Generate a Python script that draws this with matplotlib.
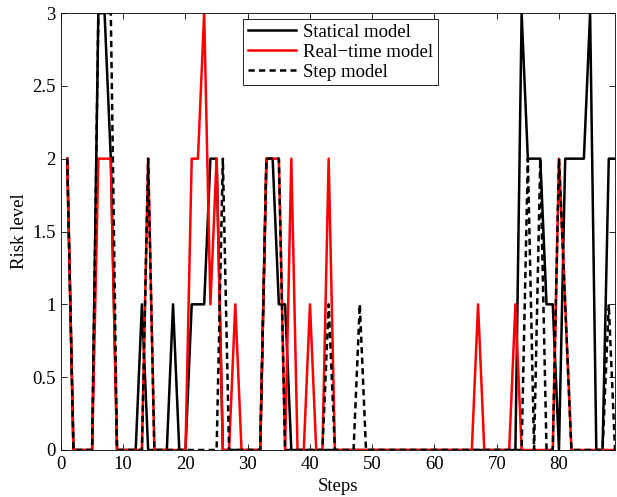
import matplotlib.pyplot as plt
import numpy as np

plt.rcParams['font.family'] = ['Liberation Serif', 'DejaVu Serif']

# Шаги 1..89
steps = np.arange(1, 90)

# Statical model (чёрная сплошная)
statical = [2, 0, 0, 0, 0, 3, 3, 2, 0, 0,
            0, 0, 1, 0, 0, 0, 0, 1, 0, 0,
            1, 1, 1, 2, 2, 0, 0, 0, 0, 0,
            0, 0, 2, 2, 1, 1, 0, 0, 0, 0,
            0, 0, 0, 0, 0, 0, 0, 0, 0, 0,
            0, 0, 0, 0, 0, 0, 0, 0, 0, 0,
            0, 0, 0, 0, 0, 0, 0, 0, 0, 0,
            0, 0, 0, 3, 2, 2, 2, 1, 1, 0,
            2, 2, 2, 2, 3, 0, 0, 2, 2]

# Real-time model (красная)
realtime = [2, 0, 0, 0, 0, 2, 2, 2, 0, 0,
            0, 0, 0, 2, 0, 0, 0, 0, 0, 0,
            2, 2, 3, 1, 2, 0, 0, 1, 0, 0,
            0, 0, 2, 2, 2, 0, 2, 0, 0, 1,
            0, 0, 2, 0, 0, 0, 0, 0, 0, 0,
            0, 0, 0, 0, 0, 0, 0, 0, 0, 0,
            0, 0, 0, 0, 0, 0, 1, 0, 0, 0,
            0, 0, 1, 0, 0, 0, 0, 0, 0, 2,
            1, 0, 0, 0, 0, 0, 0, 0, 0]

# Step model (пунктир)
step_model = [2, 0, 0, 0, 0, 3, 3, 3, 0, 0,
              0, 0, 0, 2, 0, 0, 0, 0, 0, 0,
              0, 0, 0, 0, 0, 2, 0, 0, 0, 0,
              0, 0, 2, 2, 2, 0, 0, 0, 0, 0,
              0, 0, 1, 0, 0, 0, 0, 1, 0, 0,
              0, 0, 0, 0, 0, 0, 0, 0, 0, 0,
              0, 0, 0, 0, 0, 0, 0, 0, 0, 0,
              0, 0, 0, 0, 2, 0, 2, 0, 0, 2,
              1, 0, 0, 0, 0, 0, 0, 1, 0]

x_ticks = [0, 10, 20, 30, 40, 50, 60, 70, 80]
y_ticks = [0, 0.5, 1, 1.5, 2, 2.5, 3]
y_tick_labels = ['0', '0.5', '1', '1.5', '2', '2.5', '3']

fig = plt.figure(figsize=(6.17, 4.97), dpi=100)
ax = fig.add_axes([61 / 617, 1 - 450 / 497, 554 / 617, 437 / 497])

lw = 1.8
ax.plot(steps, statical, color='black', lw=lw, label='Statical model')
ax.plot(steps, realtime, color='red', lw=lw, label='Real\u2212time model')
ax.plot(steps, step_model, color='black', lw=lw, linestyle=(0, (2.5, 1.7)),
        label='Step model')

ax.set_xlim(0, 89)
ax.set_ylim(0, 3)
ax.set_xticks(x_ticks)
ax.set_yticks(y_ticks)
ax.set_yticklabels(y_tick_labels)
ax.tick_params(direction='in', top=True, right=True, length=4, width=0.6,
               labelsize=13.5, pad=4)
for s in ax.spines.values():
    s.set_linewidth(0.6)

ax.set_xlabel('Steps', fontsize=13.5, labelpad=4)
ax.set_ylabel('Risk level', fontsize=13.5, labelpad=3)

leg = ax.legend(loc='upper left', bbox_to_anchor=(182 / 554, 1 - 6 / 437),
                fontsize=13.5, frameon=True, fancybox=False, edgecolor='black',
                framealpha=1, borderpad=0.25, labelspacing=0.15,
                handlelength=2.6, handletextpad=0.35, borderaxespad=0)
leg.get_frame().set_linewidth(0.6)

fig.savefig('out.png', dpi=100)
